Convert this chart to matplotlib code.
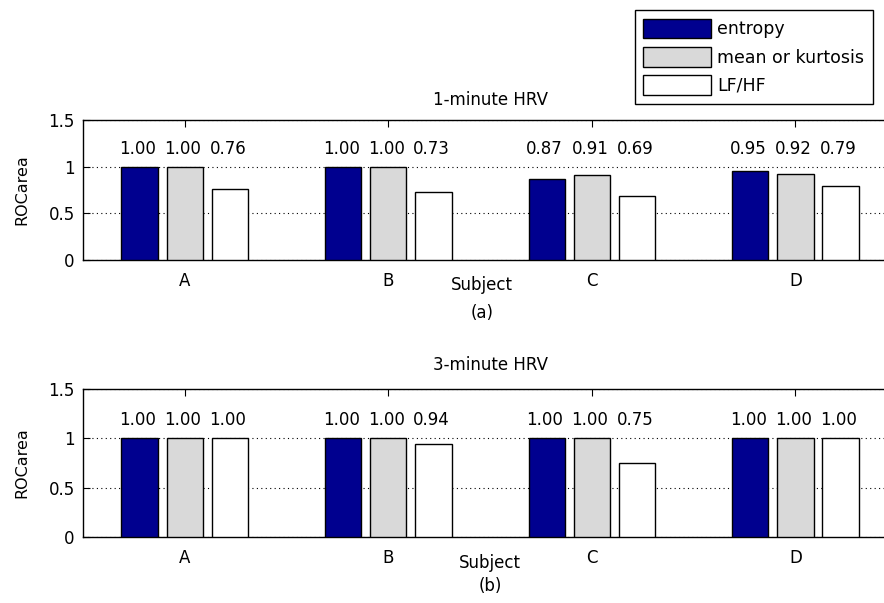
import numpy as np
import matplotlib
matplotlib.use("Agg")
import matplotlib.pyplot as plt

# ----------------------------------------------------------------------------------------

subjects = ["A", "B", "C", "D"]
series_names = ["entropy", "mean or kurtosis", "LF/HF"]
series_colors = ["#00008F", "#D9D9D9", "#FFFFFF"]

# 1-minute HRV
entropy_1 = [1.00, 1.00, 0.87, 0.95]
meankurt_1 = [1.00, 1.00, 0.91, 0.92]
lfhf_1 = [0.76, 0.73, 0.69, 0.79]

# 3-minute HRV
entropy_3 = [1.00, 1.00, 1.00, 1.00]
meankurt_3 = [1.00, 1.00, 1.00, 1.00]
lfhf_3 = [1.00, 0.94, 0.75, 1.00]

yticks = [0, 0.5, 1, 1.5]
ytick_labels = ["0", "0.5", "1", "1.5"]

# ----------------------------------------------------------------------------------------

plt.rcParams["font.family"] = ["DejaVu Sans"]

fig = plt.figure(figsize=(8.84, 6.03), dpi=100)
ax1 = fig.add_axes([0.0939, 0.569, 0.921, 0.232])
ax2 = fig.add_axes([0.0939, 0.1095, 0.921, 0.2454])

x = np.arange(1, len(subjects) + 1)
step = 0.222
width = 0.178


def draw_panel(ax, values, title, letter, title_y, subj_y, letter_y, subj_x, letter_x):
    bars = []
    for i, (vals, col, name) in enumerate(zip(values, series_colors, series_names)):
        pos = x + (i - 1) * step
        b = ax.bar(pos, vals, width, color=col, edgecolor="black", linewidth=1.0,
                   label=name, zorder=3)
        bars.append(b)
        for p, v in zip(pos, vals):
            ax.text(p - 0.01, 1.19, "%.2f" % v, ha="center", va="center", fontsize=12)
    ax.set_xlim(0.5, 4.5)
    ax.set_ylim(0, 1.5)
    ax.set_xticks(x)
    ax.set_xticklabels(subjects, fontsize=12)
    ax.set_yticks(yticks)
    ax.set_yticklabels(ytick_labels, fontsize=12)
    ax.tick_params(direction="in", top=True, right=True, length=5, width=0.8)
    ax.tick_params(axis="x", pad=9)
    ax.tick_params(axis="y", pad=6)
    ax.yaxis.grid(True, linestyle=(0, (1, 3)), color="black", linewidth=0.8, zorder=0)
    ax.set_axisbelow(True)
    for s in ax.spines.values():
        s.set_linewidth(1.0)
    ax.text(0.5, title_y, title, transform=ax.transAxes, ha="center", va="center", fontsize=12)
    ax.text(subj_x, subj_y, "Subject", transform=ax.transAxes, ha="center", va="center", fontsize=12)
    ax.text(letter_x, letter_y, letter, transform=ax.transAxes, ha="center", va="center", fontsize=12)
    ax.text(-0.075, 0.5, "ROCarea", transform=ax.transAxes, ha="center", va="center",
            rotation=90, fontsize=11.5)
    return bars


bars = draw_panel(ax1, [entropy_1, meankurt_1, lfhf_1], "1-minute HRV", "(a)",
                  1.143, -0.18, -0.38, 0.49, 0.49)
draw_panel(ax2, [entropy_3, meankurt_3, lfhf_3], "3-minute HRV", "(b)",
           1.162, -0.176, -0.33, 0.50, 0.50)

leg = fig.legend(handles=bars, labels=series_names, loc="upper left",
                 bbox_to_anchor=(0.718, 0.983), fontsize=12.5, frameon=True,
                 fancybox=False, framealpha=1, edgecolor="black",
                 handlelength=3.9, handleheight=1.35, labelspacing=0.5,
                 handletextpad=0.35, borderpad=0.5, borderaxespad=0)
leg.get_frame().set_linewidth(1.0)

plt.savefig("out.png", dpi=100)
